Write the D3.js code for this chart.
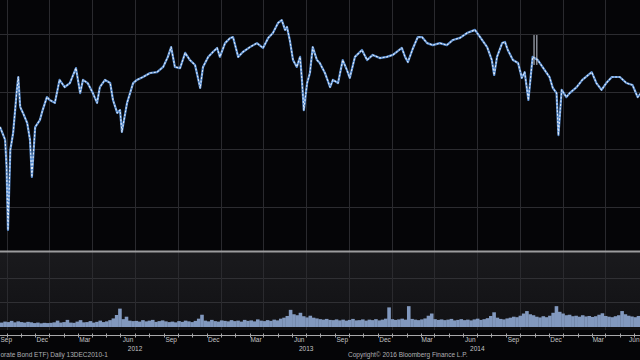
<!DOCTYPE html>
<html><head><meta charset="utf-8">
<script src="https://cdn.jsdelivr.net/npm/d3@7"></script>
<style>html,body{margin:0;padding:0;background:#050507;}svg{display:block;}</style>
</head><body>
<svg id="chart" width="640" height="360"></svg>
<script>
// ---- data ----
const priceDates = ["2011-08-18","2011-08-25","2011-08-29","2011-09-01","2011-09-04","2011-09-09","2011-09-15","2011-09-23","2011-09-26","2011-09-30",
"2011-10-06","2011-10-15","2011-10-21","2011-10-25","2011-11-01","2011-11-11","2011-11-17","2011-11-26","2011-12-02","2011-12-13",
"2011-12-23","2012-01-03","2012-01-14","2012-01-27","2012-02-05","2012-02-11","2012-02-21","2012-03-03","2012-03-12","2012-03-18",
"2012-03-29","2012-04-09","2012-04-15","2012-04-24","2012-04-30","2012-05-04","2012-05-15","2012-05-28","2012-06-05","2012-06-18",
"2012-07-03","2012-07-18","2012-07-31","2012-08-10","2012-08-17","2012-08-25","2012-09-05","2012-09-16","2012-09-26","2012-10-07",
"2012-10-18","2012-10-24","2012-11-04","2012-11-14","2012-11-23","2012-11-29","2012-12-10","2012-12-21","2012-12-27","2013-01-07",
"2013-01-17","2013-02-01","2013-02-16","2013-03-01","2013-03-12","2013-03-22","2013-04-02","2013-04-10","2013-04-17","2013-04-21",
"2013-04-27","2013-05-04","2013-05-12","2013-05-19","2013-05-23","2013-05-27","2013-06-03","2013-06-09","2013-06-15","2013-06-24",
"2013-06-30","2013-07-11","2013-07-22","2013-07-28","2013-08-08","2013-08-18","2013-08-27","2013-09-02","2013-09-13","2013-09-28",
"2013-10-09","2013-10-21","2013-11-05","2013-11-20","2013-12-03","2013-12-22","2013-12-29","2014-01-04","2014-01-15","2014-01-25",
"2014-02-03","2014-02-14","2014-02-26","2014-03-13","2014-03-28","2014-04-10","2014-04-25","2014-05-10","2014-05-27","2014-06-07",
"2014-06-22","2014-07-02","2014-07-07","2014-07-13","2014-07-24","2014-07-30","2014-08-05","2014-08-16","2014-08-27","2014-09-04",
"2014-09-10","2014-09-18","2014-09-27","2014-10-08","2014-10-18","2014-11-02","2014-11-09","2014-11-17","2014-11-21","2014-11-28",
"2014-12-08","2014-12-15","2014-12-30","2015-01-11","2015-01-31","2015-02-10","2015-02-21","2015-03-03","2015-03-15","2015-04-01",
"2015-04-15","2015-04-28","2015-05-09","2015-05-16"];
const priceValues = [114.78,114.50,114.33,113.39,111.20,113.98,114.57,116.07,116.52,115.48,
115.27,114.92,114.33,113.04,114.78,115.02,115.37,115.82,115.72,115.62,
116.42,116.17,116.31,116.83,115.96,116.42,116.31,115.96,115.62,116.17,
116.42,116.31,115.72,115.27,115.37,114.61,115.62,116.31,116.42,116.52,
116.66,116.69,116.87,117.22,117.56,116.87,116.83,117.36,117.11,116.94,
116.14,116.87,117.22,117.39,117.53,117.22,117.70,117.88,117.91,117.22,
117.39,117.56,117.70,117.53,117.88,118.05,118.40,118.50,118.16,118.26,
117.81,117.11,116.87,117.22,116.42,115.37,116.31,116.66,117.56,117.11,
117.01,116.66,116.17,116.42,116.31,117.11,116.76,116.49,117.22,117.46,
117.11,117.29,117.18,117.22,117.29,117.53,117.22,117.04,117.53,117.91,
117.91,117.70,117.63,117.70,117.63,117.81,117.88,118.05,118.16,117.91,
117.56,117.11,116.59,117.22,117.70,117.74,117.46,117.11,117.01,116.49,
116.69,115.72,117.22,117.11,116.87,116.52,116.14,115.96,114.50,116.07,
115.82,115.96,116.17,116.42,116.69,116.31,116.07,116.31,116.52,116.52,
116.31,116.24,115.82,115.96];
const spikeDates = ["2014-09-30","2014-10-06"];
const spikeHigh = [117.98,117.98];
const spikeLow = [116.94,116.94];

const volStart = "2011-08-18"; // weekly volume bars (millions)
const volValues = [1.8,2.2,2.0,2.5,1.9,2.3,2.0,1.8,2.1,1.9,
1.6,1.8,1.5,1.7,1.6,
1.7,1.9,2.6,1.8,2.0,2.9,1.8,1.7,2.2,2.8,1.9,2.0,2.4,1.8,2.1,2.6,
2.0,2.3,2.8,3.5,4.9,7.5,3.2,4.2,2.6,2.4,
2.5,2.2,2.8,2.3,2.6,2.9,2.1,2.4,2.7,2.3,
2.0,2.2,1.9,2.4,2.1,2.6,2.3,2.0,2.5,3.4,5.0,
2.6,2.3,2.9,2.4,2.2,2.7,2.5,2.3,2.8,
2.4,2.6,2.2,2.9,2.5,2.7,2.3,3.1,2.6,2.4,2.8,2.5,3.0,2.7,3.4,3.8,
4.5,7.0,5.2,4.8,5.8,4.4,3.9,
4.6,3.8,3.5,3.2,3.0,3.3,2.9,
2.8,3.1,2.7,3.0,2.6,2.9,3.3,2.7,2.8,3.1,2.6,3.0,2.8,3.2,2.7,3.0,3.4,
8.0,3.2,2.9,3.1,3.4,3.0,8.5,
3.3,3.0,2.8,3.1,3.5,4.6,5.5,
3.2,2.9,3.1,2.8,3.0,3.3,2.7,2.9,3.2,2.8,3.0,2.7,3.1,3.4,2.9,3.2,3.6,
4.5,6.0,3.8,3.3,3.1,3.5,3.8,4.2,4.0,
4.6,5.5,6.5,5.2,4.8,4.2,3.9,4.4,4.0,4.6,
5.8,8.5,6.2,5.5,4.8,5.0,4.4,4.6,4.2,4.8,4.3,4.5,4.1,
4.4,5.0,5.6,4.5,4.2,4.0,4.4,4.8,6.5,5.2,4.6,4.3,4.0,4.5];

const priceTicks = [112,114,116,118];
const volTicks = [10,20];
const monthLabels = ["Sep","Dec","Mar","Jun","Sep","Dec","Mar","Jun","Sep","Dec","Mar","Jun","Sep","Dec","Mar","Jun"];
const monthDates = ["2011-09-01","2011-12-01","2012-03-01","2012-06-01","2012-09-01","2012-12-01","2013-03-01","2013-06-01",
"2013-09-01","2013-12-01","2014-03-01","2014-06-01","2014-09-01","2014-12-01","2015-03-01","2015-06-01"];
const yearLabels = ["2012","2013","2014"];
const yearDates = ["2012-06-01","2013-06-01","2014-06-01"];
const footerLeft = "orate Bond ETF)  Daily 13DEC2010-1";
const footerRight = "Copyright\u00A9 2016 Bloomberg Finance L.P.";

// ---- drawing ----
const parse = d3.timeParse("%Y-%m-%d");
const svg = d3.select("#chart");
const W = 640;
const x = d3.scaleTime().domain([parse("2011-08-18"), parse("2015-05-14")]).range([0, W]);
const y = d3.scaleLinear().domain([110.5, 119.2]).range([250, 0]);
const yv = d3.scaleLinear().domain([0, 30.2]).range([327, 253]);

svg.append("rect").attr("x",0).attr("y",0).attr("width",W).attr("height",360).attr("fill","#050507");
const defs = svg.append("defs");
const grad = defs.append("linearGradient").attr("id","vg").attr("x1",0).attr("y1",0).attr("x2",0).attr("y2",1);
grad.append("stop").attr("offset","0%").attr("stop-color","#1a1a1d");
grad.append("stop").attr("offset","100%").attr("stop-color","#111114");
const blur = defs.append("filter").attr("id","soft").attr("x","-5%").attr("y","-5%").attr("width","110%").attr("height","110%");
blur.append("feGaussianBlur").attr("stdDeviation",0.35);
svg.append("rect").attr("x",0).attr("y",252).attr("width",W).attr("height",78).attr("fill","url(#vg)");

// horizontal grid price
svg.append("g").selectAll("line").data(priceTicks).join("line")
  .attr("x1",0).attr("x2",W).attr("y1",d=>Math.round(y(d))+0.5).attr("y2",d=>Math.round(y(d))+0.5)
  .attr("stroke","#2c2c30").attr("stroke-width",1);
// horizontal grid volume
svg.append("g").selectAll("line").data(volTicks).join("line")
  .attr("x1",0).attr("x2",W).attr("y1",d=>Math.round(yv(d))+0.5).attr("y2",d=>Math.round(yv(d))+0.5)
  .attr("stroke","#303034").attr("stroke-width",1);
// vertical grid
svg.append("g").selectAll("line").data(monthDates).join("line")
  .attr("x1",d=>Math.round(x(parse(d)))+0.5).attr("x2",d=>Math.round(x(parse(d)))+0.5)
  .attr("y1",0).attr("y2",330)
  .attr("stroke","#2a2a2e").attr("stroke-width",1);

// separator
svg.append("rect").attr("x",0).attr("y",250.5).attr("width",W).attr("height",2).attr("fill","#9c9c9e");

// volume bars
const volDates = volValues.map((v,i)=>d3.timeWeek.offset(parse(volStart), i));
const bw = x(d3.timeWeek.offset(parse(volStart),1)) - x(parse(volStart));
svg.append("g").attr("filter","url(#soft)").selectAll("rect").data(volValues).join("rect")
  .attr("x",(d,i)=>x(volDates[i]))
  .attr("width",bw+0.3)
  .attr("y",d=>yv(d))
  .attr("height",d=>yv(0)-yv(d))
  .attr("fill","#8299bf");

// price line
const pts = priceDates.map((d,i)=>[parse(d), priceValues[i]]);
const line = d3.line().x(d=>x(d[0])).y(d=>y(d[1]));
const pg = svg.append("g").attr("filter","url(#soft)");
pg.append("path").datum(pts).attr("d",line).attr("fill","none")
  .attr("stroke","#5b8fd0").attr("stroke-width",2.2).attr("stroke-linejoin","round");
pg.append("path").datum(pts).attr("d",line).attr("fill","none")
  .attr("stroke","#e4ecf8").attr("stroke-width",1.1).attr("stroke-dasharray","2,1.6").attr("stroke-linejoin","round");
// spikes
svg.append("g").selectAll("line").data(spikeDates).join("line")
  .attr("x1",d=>x(parse(d))).attr("x2",d=>x(parse(d)))
  .attr("y1",(d,i)=>y(spikeHigh[i])).attr("y2",(d,i)=>y(spikeLow[i]))
  .attr("stroke","#c8cfdc").attr("stroke-width",1);

// axis line with monthly ticks
svg.append("line").attr("x1",0).attr("x2",W).attr("y1",335.5).attr("y2",335.5).attr("stroke","#a8a8aa").attr("stroke-width",1);
const allMonths = d3.timeMonth.range(x.domain()[0], x.domain()[1]);
svg.append("g").selectAll("line").data(allMonths).join("line")
  .attr("x1",d=>Math.round(x(d))+0.5).attr("x2",d=>Math.round(x(d))+0.5)
  .attr("y1",333.5).attr("y2",337.5).attr("stroke","#a8a8aa").attr("stroke-width",1);

// labels
const font = "Liberation Sans, Arial, sans-serif";
const ml = svg.append("g").selectAll("text").data(monthLabels).join("text")
  .attr("x",(d,i)=>x(parse(monthDates[i]))-7).attr("y",342)
  .attr("text-anchor","middle").attr("font-family",font).attr("font-size",6.5)
  .attr("fill","#c4c4c6").text(d=>d);
// keep edge labels inside the picture
ml.each(function(){
  const w = this.getComputedTextLength();
  const cx = +this.getAttribute("x");
  this.setAttribute("x", Math.max(w/2+0.5, Math.min(W-w/2-0.5, cx)));
});
svg.append("g").selectAll("text").data(yearLabels).join("text")
  .attr("x",(d,i)=>x(parse(yearDates[i]))).attr("y",350.5)
  .attr("text-anchor","middle").attr("font-family",font).attr("font-size",6.5)
  .attr("fill","#c4c4c6").text(d=>d);
svg.append("text").attr("x",0.5).attr("y",357).attr("font-family",font).attr("font-size",6.5)
  .attr("fill","#b0b0b4").text(footerLeft);
svg.append("text").attr("x",348).attr("y",357).attr("font-family",font).attr("font-size",6.5)
  .attr("fill","#b0b0b4").text(footerRight);
</script>
</body></html>
